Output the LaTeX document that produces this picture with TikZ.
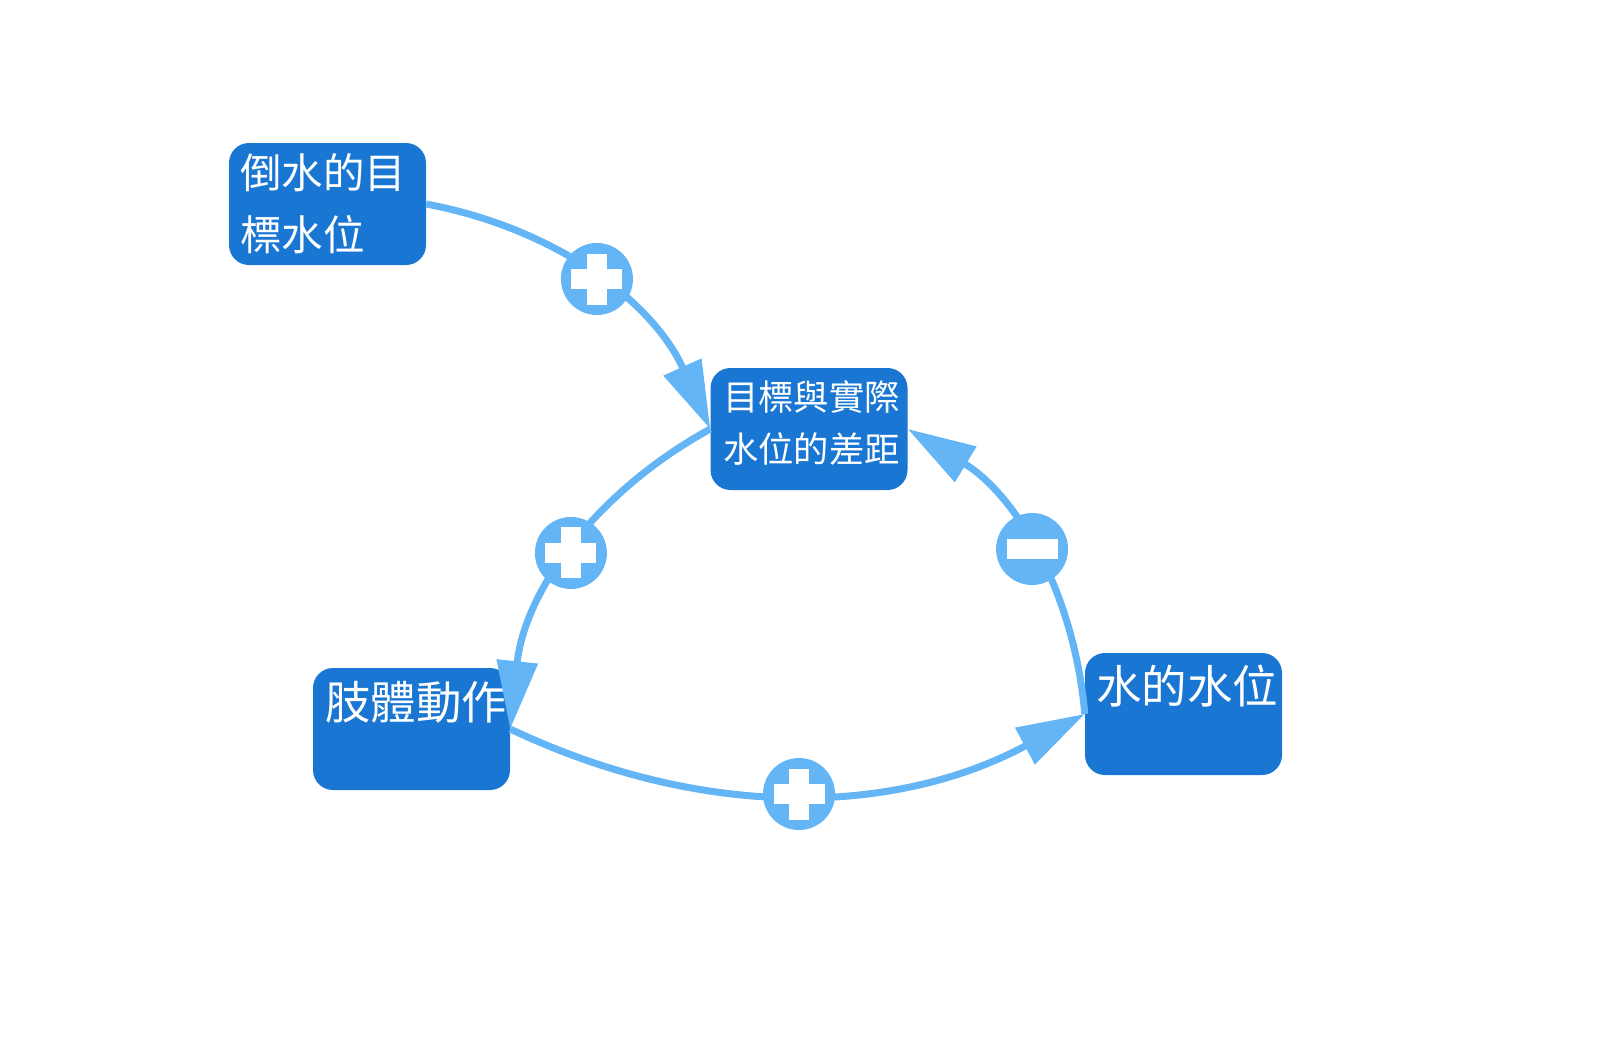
\documentclass[tikz,border=0pt]{standalone}
\usepackage{fontspec}
\newfontfamily\cjk{Noto Sans CJK TC}
\usetikzlibrary{arrows.meta}
\definecolor{boxblue}{HTML}{1976D2}
\definecolor{linkblue}{HTML}{64B5F6}
\begin{document}
\begin{tikzpicture}[x=1pt,y=-1pt,
  box/.style={rectangle, rounded corners=20pt, fill=boxblue, minimum width=197pt, minimum height=122pt, inner sep=0pt},
  boxtext/.style={anchor=north west, inner sep=0pt, text=white, align=left},
  conn/.style={draw=linkblue, line width=7pt, -{Triangle[length=68pt,width=40pt]}},
  sign/.style={circle, fill=linkblue, minimum size=72pt, inner sep=0pt},
  plussign/.style={sign, path picture={
    \fill[white] ([xshift=-25.5pt,yshift=-10pt]path picture bounding box.center) rectangle ([xshift=25.5pt,yshift=10pt]path picture bounding box.center);
    \fill[white] ([xshift=-10pt,yshift=-25.5pt]path picture bounding box.center) rectangle ([xshift=10pt,yshift=25.5pt]path picture bounding box.center);}},
  minussign/.style={sign, path picture={
    \fill[white] ([xshift=-25.5pt,yshift=-10pt]path picture bounding box.center) rectangle ([xshift=25.5pt,yshift=10pt]path picture bounding box.center);}}
]
\useasboundingbox (0,0) rectangle (1600,1063);

% boxes
\node[box] (b1) at (327.5,204) {};
\node[box] (b2) at (809,429) {};
\node[box] (b3) at (1183.5,714) {};
\node[box] (b4) at (411.5,729) {};

% texts
\node[boxtext, font=\cjk\fontsize{41.5}{62}\selectfont] (t1) at (240,153) {倒水的目\\標水位};
\node[boxtext, font=\cjk\fontsize{35.3}{52}\selectfont] (t2) at (723,380) {目標與實際\\水位的差距};
\node[boxtext, font=\cjk\fontsize{45.5}{60}\selectfont] (t3) at (1096,665) {水的水位};
\node[boxtext, font=\cjk\fontsize{45.5}{60}\selectfont] (t4) at (325,681) {肢體動作};

% connectors
\draw[conn] (b1.east) .. controls (559,229) and (654,304) .. node[plussign, pos=0.5] (s1) {} (b2.west);
\draw[conn] (b2.west) .. controls (591.3,494.3) and (524.3,594.3) .. node[plussign, pos=0.5] (s2) {} (b4.east);
\draw[conn] (b4.east) .. controls (703.7,820.7) and (895.3,815.7) .. node[plussign, pos=0.5] (s3) {} (b3.west);
\draw[conn] (b3.west) .. controls (1073.7,589) and (1014.3,494) .. node[minussign, pos=0.5] (s4) {} (b2.east);
\end{tikzpicture}
\end{document}
